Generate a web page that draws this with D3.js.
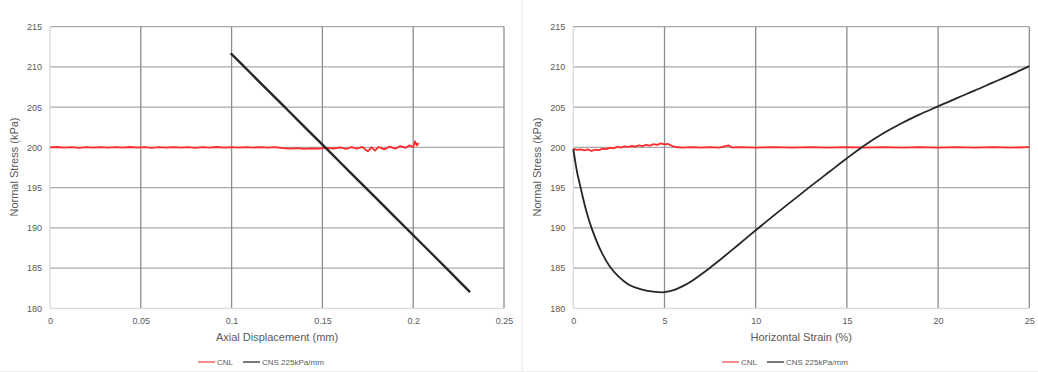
<!DOCTYPE html>
<html>
<head>
<meta charset="utf-8">
<script src="https://cdn.jsdelivr.net/npm/d3@7"></script>
<style>
  body { margin: 0; background: #fff; }
  svg { display: block; font-family: "Liberation Sans", Arial, sans-serif; }
</style>
</head>
<body>
<div id="chart"></div>
<script>
// ---- data ----
const yTicks = [180, 185, 190, 195, 200, 205, 210, 215];
const dispTicks = [0, 0.05, 0.1, 0.15, 0.2, 0.25];
const strainTicks = [0, 5, 10, 15, 20, 25];
const seriesNames = ["CNL", "CNS 225kPa/mm"];

// left: axial displacement (mm) vs normal stress (kPa)
const cnlDisp = [
  [0,200.0],[0.004,200.05],[0.008,199.97],[0.012,200.03],[0.016,199.95],[0.02,200.04],
  [0.024,199.98],[0.028,200.03],[0.032,199.96],[0.036,200.04],[0.04,199.98],[0.044,200.05],
  [0.048,199.97],[0.052,200.02],[0.056,199.95],[0.06,200.03],[0.064,199.97],[0.068,200.04],
  [0.072,199.96],[0.076,200.02],[0.08,199.95],[0.084,200.04],[0.088,199.98],[0.092,200.05],
  [0.096,199.97],[0.1,200.03],[0.104,199.96],[0.108,200.04],[0.112,199.98],[0.116,200.03],
  [0.12,199.97],[0.124,200.02],[0.128,199.9],[0.132,199.85],[0.136,199.92],[0.14,199.82],
  [0.144,199.88],[0.148,199.84],[0.152,199.93],[0.156,199.86],[0.16,200.0],[0.163,199.8],
  [0.166,200.03],[0.169,199.85],[0.172,200.05],[0.175,199.5],[0.177,200.0],[0.179,199.6],
  [0.181,200.05],[0.184,199.75],[0.187,200.1],[0.19,199.85],[0.193,200.15],[0.196,199.95],
  [0.198,200.25],[0.2,200.05],[0.201,200.75],[0.202,200.25],[0.203,200.55]
];
const cnsDisp = [
  [0.0995,211.7],[0.11,209.34],[0.12,207.09],[0.13,204.84],[0.14,202.59],[0.15,200.34],
  [0.16,198.09],[0.17,195.84],[0.18,193.59],[0.19,191.34],[0.2,189.09],[0.21,186.84],
  [0.22,184.59],[0.2313,182.0]
];

// right: horizontal strain (%) vs normal stress (kPa)
const cnlStrain = [
  [0,199.8],[0.2,199.7],[0.4,199.75],[0.6,199.62],[0.8,199.75],[1.0,199.55],[1.2,199.72],
  [1.4,199.65],[1.6,199.85],[1.8,199.78],[2.0,199.95],[2.2,199.88],[2.4,200.08],[2.6,199.98],
  [2.8,200.12],[3.0,200.05],[3.2,200.2],[3.4,200.1],[3.6,200.25],[3.8,200.15],[4.0,200.3],
  [4.2,200.22],[4.4,200.4],[4.6,200.32],[4.8,200.5],[5.0,200.38],[5.2,200.42],[5.4,200.2],
  [5.6,200.05],[6.0,199.97],[6.5,200.04],[7.0,199.97],[7.5,200.03],[8.0,199.97],[8.5,200.25],
  [8.7,199.98],[9.0,200.03],[10,199.98],[11,200.03],[12,199.97],[13,200.03],[14,199.98],
  [15,200.03],[16,199.97],[17,200.03],[18,199.98],[19,200.03],[20,199.97],[21,200.03],
  [22,199.98],[23,200.03],[24,199.97],[25,200.02]
];
const cnsStrain = [
  [0,199.8],[0.2,197.0],[0.4,195.0],[0.7,192.2],[1.0,190.0],[1.5,187.2],[2.0,185.2],
  [2.5,183.9],[3.0,183.0],[3.5,182.5],[4.0,182.2],[4.5,182.03],[5.0,182.0],[5.5,182.25],
  [6.0,182.75],[6.5,183.4],[7.0,184.2],[7.5,185.05],[8.0,185.95],[9.0,187.8],[10,189.7],
  [11,191.55],[12,193.35],[13,195.15],[14,196.9],[15,198.65],[16,200.3],[17,201.75],
  [18,203.0],[19,204.1],[20,205.1],[21,206.1],[22,207.05],[23,208.05],[24,209.05],[25,210.1]
];

const W = 1038, H = 372;
const svg = d3.select("#chart").append("svg").attr("width", W).attr("height", H);

// panel frames
svg.append("line").attr("x1", 522).attr("x2", 522).attr("y1", 0).attr("y2", H)
   .attr("stroke", "#e4e4e4").attr("stroke-width", 1);
svg.append("line").attr("x1", 0).attr("x2", W).attr("y1", 371.5).attr("y2", 371.5)
   .attr("stroke", "#ececec").attr("stroke-width", 1);

const colors = ["#ff2b2b", "#262626"];

function panel(opt) {
  const g = svg.append("g");
  const x = d3.scaleLinear().domain(opt.xDomain).range([opt.x0, opt.x1]);
  const y = d3.scaleLinear().domain([180, 215]).range([308.3, 26.7]);

  // horizontal gridlines
  g.append("g").selectAll("line").data(yTicks.slice(1)).enter().append("line")
    .attr("x1", x(opt.xDomain[0])).attr("x2", x(opt.xDomain[1]))
    .attr("y1", d => y(d)).attr("y2", d => y(d))
    .attr("stroke", "#a9a9a9").attr("stroke-width", 1.3);
  // vertical gridlines
  g.append("g").selectAll("line").data(opt.xTicks.slice(1)).enter().append("line")
    .attr("x1", d => x(d)).attr("x2", d => x(d))
    .attr("y1", y(180)).attr("y2", y(215))
    .attr("stroke", "#8c8c8c").attr("stroke-width", 1.3);
  // axis lines
  g.append("line").attr("x1", x(opt.xDomain[0])).attr("x2", x(opt.xDomain[0]))
    .attr("y1", y(180)).attr("y2", y(215)).attr("stroke", "#d9d9d9").attr("stroke-width", 1.3);
  g.append("line").attr("x1", x(opt.xDomain[0])).attr("x2", x(opt.xDomain[1]))
    .attr("y1", y(180)).attr("y2", y(180)).attr("stroke", "#d9d9d9").attr("stroke-width", 1.3);

  // axes (labels only)
  const yAxis = d3.axisLeft(y).tickValues(yTicks).tickSize(0).tickPadding(8);
  const ya = g.append("g").attr("transform", `translate(${opt.x0},0)`).call(yAxis);
  const xAxis = d3.axisBottom(x).tickValues(opt.xTicks).tickSize(0).tickPadding(9)
    .tickFormat(d => String(d));
  const xa = g.append("g").attr("transform", `translate(0,${y(180)})`).call(xAxis);
  [ya, xa].forEach(a => {
    a.select(".domain").remove();
    a.selectAll("text").attr("fill", "#595959").style("font-size", "9px")
      .style("font-family", "Liberation Sans, Arial, sans-serif");
  });

  // axis titles
  g.append("text").attr("x", (opt.x0 + opt.x1) / 2).attr("y", 341)
    .attr("text-anchor", "middle").attr("fill", "#595959").style("font-size", "11px")
    .text(opt.xTitle);
  g.append("text").attr("transform", `translate(${opt.yTitleX},167) rotate(-90)`)
    .attr("text-anchor", "middle").attr("fill", "#595959").style("font-size", "11px")
    .text("Normal Stress (kPa)");

  // lines
  const redLine = d3.line().x(d => x(d[0])).y(d => y(d[1]));
  const blackLine = d3.line().x(d => x(d[0])).y(d => y(d[1])).curve(d3.curveCatmullRom.alpha(0.5));
  g.append("path").datum(opt.red).attr("d", redLine).attr("fill", "none")
    .attr("stroke", colors[0]).attr("stroke-width", 1.8).attr("stroke-linejoin", "round");
  g.append("path").datum(opt.black).attr("d", blackLine).attr("fill", "none")
    .attr("stroke", colors[1]).attr("stroke-width", opt.blackW).attr("stroke-linejoin", "round");

  // legend
  const lg = g.append("g").attr("transform", `translate(${opt.legX},362)`);
  const offs = [0, 45];
  seriesNames.forEach((n, i) => {
    lg.append("line").attr("x1", offs[i]).attr("x2", offs[i] + 17).attr("y1", 0).attr("y2", 0)
      .attr("stroke", i === 0 ? "#f07070" : "#555").attr("stroke-width", 1.6);
    lg.append("text").attr("x", offs[i] + 19).attr("y", 3).attr("fill", "#595959")
      .style("font-size", "8px").text(n);
  });
}

panel({ xDomain: [0, 0.25], xTicks: dispTicks, x0: 50, x1: 504,
        xTitle: "Axial Displacement (mm)", yTitleX: 18, red: cnlDisp, black: cnsDisp,
        blackW: 2.4, legX: 198 });
panel({ xDomain: [0, 25], xTicks: strainTicks, x0: 573.3, x1: 1029.3,
        xTitle: "Horizontal Strain (%)", yTitleX: 541, red: cnlStrain, black: cnsStrain,
        blackW: 1.8, legX: 722 });
</script>
</body>
</html>
